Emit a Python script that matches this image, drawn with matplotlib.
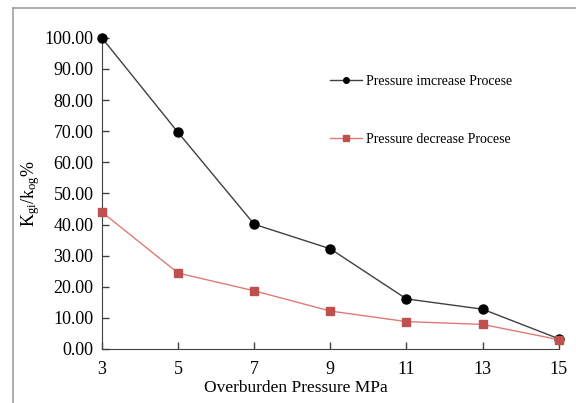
import matplotlib
matplotlib.use("Agg")
import matplotlib.pyplot as plt
from matplotlib.lines import Line2D

plt.rcParams['font.family'] = ['Liberation Serif', 'DejaVu Serif']
plt.rcParams['mathtext.fontset'] = 'custom'
plt.rcParams['mathtext.rm'] = 'Liberation Serif'
plt.rcParams['mathtext.it'] = 'Liberation Serif:italic'

pressure = [3, 5, 7, 9, 11, 13, 15]
increase = [100.0, 69.6, 40.1, 32.2, 16.1, 12.8, 3.3]
decrease = [44.0, 24.4, 18.7, 12.2, 8.8, 7.9, 3.0]
yticks = [0, 10, 20, 30, 40, 50, 60, 70, 80, 90, 100]

fig = plt.figure(figsize=(5.76, 4.03), dpi=100)
ax = fig.add_axes((0.177, 0.134, 0.793, 0.772))

ax.plot(pressure, increase, '-o', color='#404040', lw=1.0,
        mfc='black', mec='black', ms=6.5, clip_on=False, zorder=3)
ax.plot(pressure, decrease, '-s', color='#e07a78', lw=1.0,
        mfc='#c0504d', mec='#c0504d', ms=5.5, clip_on=False, zorder=3)

ax.set_xlim(3, 15)
ax.set_ylim(0, 100)
ax.set_xticks(pressure)
ax.set_yticks(yticks)
ax.set_yticklabels([f'{v:.2f}' for v in yticks])
ax.tick_params(direction='in', length=5, width=1, color='#404040', labelsize=13)
ax.tick_params(axis='x', pad=9)
ax.tick_params(axis='y', pad=6)
for side in ('top', 'right'):
    ax.spines[side].set_visible(False)
for side in ('left', 'bottom'):
    ax.spines[side].set_color('#404040')

fig.text(0.514, 0.038, 'Overburden Pressure MPa', ha='center', va='center', fontsize=12.5)
ax.set_ylabel(r'K$_{\mathregular{gi}}$/k$_{\mathregular{og}}$%', fontsize=13, labelpad=2)

handles = [Line2D([], [], color='#404040', marker='o', mfc='black', mec='black', ms=4, lw=1),
           Line2D([], [], color='#e07a78', marker='s', mfc='#c0504d', mec='#c0504d', ms=4, lw=1)]
ax.legend(handles, ['Pressure imcrease Procese', 'Pressure decrease Procese'],
          loc='upper left', bbox_to_anchor=(0.471, 0.92), frameon=False,
          fontsize=10, labelspacing=3.2, handlelength=2.3, handletextpad=0.3)

# outer frame line on the left and top
fig.add_artist(Line2D([0.0226, 0.0226], [0.0, 0.980], color='#a0a0a0', lw=1.2))
fig.add_artist(Line2D([0.0226, 1.0], [0.980, 0.980], color='#a0a0a0', lw=1.2))

fig.savefig('out.png', dpi=100)
